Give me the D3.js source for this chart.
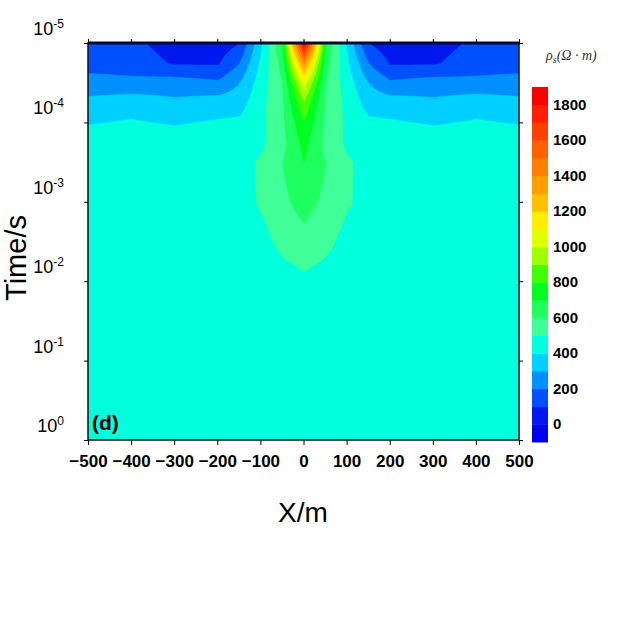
<!DOCTYPE html>
<html><head><meta charset="utf-8">
<script src="https://cdn.jsdelivr.net/npm/d3@7"></script>
<style>body{margin:0;background:#fff}</style></head>
<body><svg id="c" width="640" height="640"></svg>
<script>
// grid: x (m), log10(time) rows, resistivity values
const xs = [-500,-400,-300,-200,-150,-100,-50,0,50,100,150,200,300,400,500];
const logT = [-5,-4.75,-4.5,-4.25,-4,-3.75,-3.5,-3,-2.5,-2,-1.5,-1,0];
const rho = [
 [150,120, 60, 40,100,380,700,1850,700,380,100, 40, 60,120,150],
 [160,150, 90, 90,200,420,640,1380,640,420,200, 90, 90,150,160],
 [240,230,250,220,300,450,600,1050,600,450,300,220,250,230,240],
 [330,360,320,350,360,470,590,880,590,470,360,350,320,360,330],
 [395,410,392,412,420,480,580,790,580,480,420,412,392,410,395],
 [450,455,450,455,455,480,570,730,570,480,455,455,450,455,450],
 [455,455,455,455,460,515,600,700,600,515,460,455,455,455,455],
 [455,455,455,455,458,512,575,640,575,512,458,455,455,455,455],
 [455,455,455,455,455,465,525,565,525,465,455,455,455,455,455],
 [455,455,455,455,455,455,458,475,458,455,455,455,455,455,455],
 [455,455,455,455,455,455,455,458,455,455,455,455,455,455,455],
 [455,455,455,455,455,455,455,455,455,455,455,455,455,455,455],
 [455,455,455,455,455,455,455,455,455,455,455,455,455,455,455]];
const xTicks = [-500,-400,-300,-200,-100,0,100,200,300,400,500];
const yExps = [-5,-4,-3,-2,-1,0];
const cbTicks = [0,200,400,600,800,1000,1200,1400,1600,1800];
const levels = d3.range(-100, 2000, 100);

const svg = d3.select("#c");
const L=88,R=519,T=43,B=440;
const x = d3.scaleLinear().domain([-500,500]).range([L,R]);
const y = d3.scaleLinear().domain([-5,0]).range([T,B]);
const colorStops = [[-50,"#0000ee"],[50,"#0018f0"],[150,"#0050ff"],[250,"#0090ff"],[350,"#00d0ff"],[450,"#00ffdc"],[550,"#40ff98"],[650,"#20ff60"],[750,"#00ff20"],[850,"#40ff00"],[950,"#a0ff00"],[1050,"#e0ff00"],[1150,"#ffee00"],[1250,"#ffc000"],[1350,"#ffa000"],[1450,"#ff8000"],[1550,"#ff6000"],[1650,"#ff4000"],[1750,"#ff2000"],[1850,"#ff0000"]];
const cInterp = d3.scaleLinear().domain(colorStops.map(d=>d[0])).range(colorStops.map(d=>d[1])).clamp(true);
const bandColor = v => cInterp(v+50);

function interp(arr, v){ let i=d3.bisectRight(arr,v)-1; i=Math.max(0,Math.min(arr.length-2,i)); return [i,(v-arr[i])/(arr[i+1]-arr[i])]; }
const NX=301, NY=301, vals=new Array(NX*NY);
for(let j=0;j<NY;j++){ const e=-5+5*j/(NY-1); const [ri,rt]=interp(logT,e);
 for(let i=0;i<NX;i++){ const xv=-500+1000*i/(NX-1); const [ci,ct]=interp(xs,xv);
  const a=rho[ri][ci],b=rho[ri][ci+1],c=rho[ri+1][ci],d=rho[ri+1][ci+1];
  vals[j*NX+i]=(a*(1-ct)+b*ct)*(1-rt)+(c*(1-ct)+d*ct)*rt; }}
const contours = d3.contours().size([NX,NY]).thresholds(levels)(vals);
const proj = d3.geoTransform({point:function(px,py){ this.stream.point(L+(R-L)*px/(NX-1), T+(B-T)*py/(NY-1)); }});
svg.append("defs").append("clipPath").attr("id","cp").append("rect").attr("x",L).attr("y",T).attr("width",R-L).attr("height",B-T);
svg.append("g").attr("clip-path","url(#cp)").selectAll("path").data(contours).join("path")
 .attr("d",d3.geoPath(proj)).attr("fill",d=>bandColor(d.value)).attr("stroke",d=>bandColor(d.value)).attr("stroke-width",0.5);

svg.append("rect").attr("x",L).attr("y",T).attr("width",R-L).attr("height",B-T).attr("fill","none").attr("stroke","#111").attr("stroke-width",1.5);
svg.append("line").attr("x1",L).attr("x2",R).attr("y1",T).attr("y2",T).attr("stroke","#0a0a30").attr("stroke-width",3);
const xa = svg.append("g").attr("transform",`translate(0,${B})`).call(d3.axisBottom(x).tickValues(xTicks).tickSize(5).tickSizeOuter(0));
xa.select(".domain").remove();
xa.selectAll("text").attr("font-family","Liberation Sans Narrow, Liberation Sans, Arial").attr("font-weight","bold").attr("font-size",17).attr("fill","#000").attr("dy","1.1em");
svg.append("g").attr("transform",`translate(0,${T})`).call(d3.axisTop(x).tickValues(xTicks).tickSize(4).tickFormat("")).select(".domain").remove();
const ya = svg.append("g").attr("transform",`translate(${L},0)`).call(d3.axisLeft(y).tickValues(yExps).tickSize(4).tickFormat(""));
ya.select(".domain").remove();
svg.append("g").attr("transform",`translate(${R},0)`).call(d3.axisRight(y).tickValues(yExps).tickSize(4).tickFormat("")).select(".domain").remove();
yExps.forEach(e=>{
 const t=svg.append("text").attr("x",64).attr("y",y(e)-8).attr("text-anchor","end").attr("font-family","Liberation Sans, Arial").attr("font-size",18).attr("fill","#000");
 t.append("tspan").text("10");
 t.append("tspan").attr("dy",-7).attr("font-size",12).text(e);
});
svg.append("text").attr("transform","translate(26,258) rotate(-90)").attr("text-anchor","middle").attr("font-family","Liberation Sans, Arial").attr("font-size",29).text("Time/s");
svg.append("text").attr("x",303).attr("y",522).attr("text-anchor","middle").attr("font-family","Liberation Sans, Arial").attr("font-size",28).text("X/m");
svg.append("text").attr("x",92).attr("y",430).attr("font-family","Liberation Sans, Arial").attr("font-weight","bold").attr("font-size",21).text("(d)");

const cb = d3.scaleLinear().domain([-100,1900]).range([442,87]);
svg.append("g").selectAll("rect").data(levels.slice(0,-1)).join("rect")
 .attr("x",532).attr("width",16).attr("y",d=>cb(d+100)).attr("height",d=>cb(d)-cb(d+100)+0.5).attr("fill",d=>bandColor(d));
svg.append("g").selectAll("text").data(cbTicks).join("text").attr("x",553).attr("y",d=>cb(d)+5)
 .attr("font-family","Liberation Sans Narrow, Liberation Sans, Arial").attr("font-weight","bold").attr("font-size",15).text(d=>d);
const tt=svg.append("text").attr("x",546).attr("y",60).attr("font-family","Liberation Serif, Times New Roman").attr("font-style","italic").attr("font-size",14).attr("fill","#333");
tt.append("tspan").text("ρ");tt.append("tspan").attr("font-size",10).attr("dy",3).text("s");tt.append("tspan").attr("dy",-3).text("(Ω · m)");
</script></body></html>
